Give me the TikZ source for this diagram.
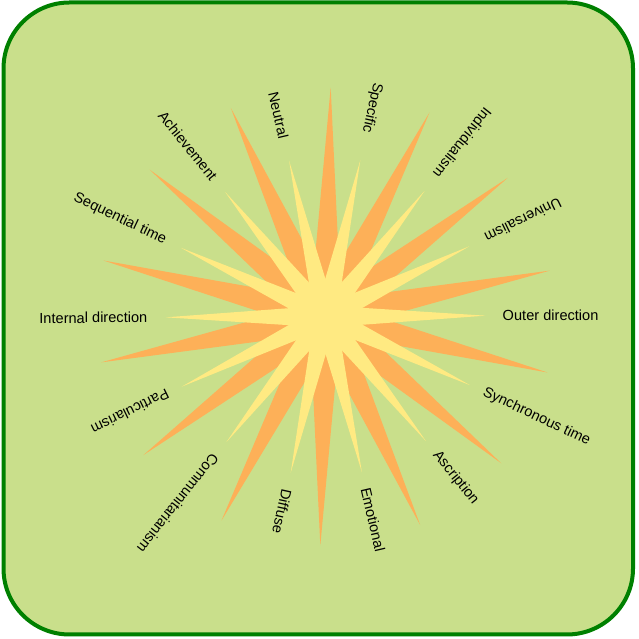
\documentclass[tikz,border=0pt]{standalone}
\usepackage{fontspec}
\setmainfont{Liberation Sans}
\usetikzlibrary{calc}
\definecolor{boxgreen}{RGB}{201,223,139}
\definecolor{framegreen}{RGB}{0,128,0}
\definecolor{rayorange}{RGB}{253,176,88}
\definecolor{rayyellow}{RGB}{255,234,130}

\begin{document}
\begin{tikzpicture}[x=1pt,y=1pt,
  raytext/.style={inner sep=0pt, font=\fontsize{14.6}{17}\selectfont}]
  \useasboundingbox (0,0) rectangle (639,639);
  \draw[framegreen, line width=4pt, fill=boxgreen, rounded corners=66pt] (3.5,4.5) rectangle (633,636.5);
  \coordinate (c) at (325.5,322.5);
  % long orange rays
  \foreach \i in {0,...,13}{
    \pgfmathsetmacro{\a}{88.7-25.714*\i}
    \fill[rayorange] ($(c)+(\a+90:16)$) -- ($(c)+(\a:229)$) -- ($(c)+(\a-90:16)$) -- cycle;
  }
  % short yellow rays
  \foreach \i in {0,...,13}{
    \pgfmathsetmacro{\a}{0.3+25.714*\i}
    \fill[rayyellow] ($(c)+(\a+90:11)$) -- ($(c)+(\a:160)$) -- ($(c)+(\a-90:11)$) -- cycle;
  }
  \fill[rayyellow] (c) circle (33);
  % labels
  \foreach \txt/\flip/\anc/\r [count=\k from 0] in {Outer direction/0/west/177, Universalism/180/east/178,
      Individualism/180/east/179, Specific/180/east/188, Neutral/180/east/183, Achievement/180/east/177,
      Sequential time/180/east/177, Internal direction/180/east/178, Particularism/0/west/175,
      Communitarianism/0/west/177, Diffuse/0/west/177, Emotional/0/west/176, Ascription/0/west/175,
      Synchronous time/0/west/175}{
    \pgfmathsetmacro{\a}{0.3+25.714*\k}
    \node[raytext, rotate=\a+\flip, anchor=\anc] (lab\k) at ($(c)+(\a:\r)$) {\txt};
  }
\end{tikzpicture}
\end{document}
